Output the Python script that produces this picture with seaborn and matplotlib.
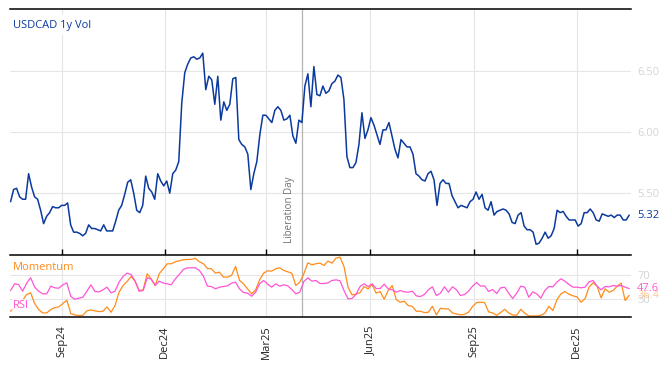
import numpy as np
import pandas as pd
import matplotlib
matplotlib.use("Agg")
import matplotlib.pyplot as plt
import matplotlib.dates as mdates
import seaborn as sns

# ---------------- data ----------------
vol_start, vol_end = "2024-07-17 12:00", "2026-01-16 10:00"
usdcad_vol = [
    5.43, 5.53, 5.54, 5.47, 5.45, 5.45, 5.66, 5.55, 5.47, 5.45,
    5.36, 5.25, 5.31, 5.34, 5.39, 5.38, 5.38, 5.40, 5.40, 5.42,
    5.24, 5.18, 5.18, 5.17, 5.15, 5.17, 5.24, 5.21, 5.21, 5.20,
    5.19, 5.24, 5.19, 5.19, 5.19, 5.27, 5.36, 5.40, 5.49, 5.59,
    5.61, 5.50, 5.36, 5.34, 5.40, 5.64, 5.54, 5.51, 5.45, 5.66,
    5.60, 5.56, 5.60, 5.50,
    5.66, 5.69, 5.76, 6.24, 6.49, 6.56, 6.61, 6.62, 6.60, 6.61,
    6.65, 6.35, 6.46, 6.43, 6.23, 6.46, 6.10, 6.25, 6.18, 6.23,
    6.44, 6.45, 5.94, 5.90, 5.88, 5.82, 5.53, 5.66, 5.76, 5.98,
    6.14, 6.14, 6.11, 6.08, 6.18, 6.21, 6.18, 6.10, 6.11, 6.14,
    5.97, 5.91, 6.10, 6.08, 6.38, 6.48, 6.21, 6.54, 6.31, 6.30,
    6.38, 6.32,
    6.34, 6.40, 6.42, 6.47, 6.45, 6.27, 5.80, 5.71, 5.71, 5.75,
    5.90, 6.16, 5.95, 6.02, 6.12, 6.06, 5.98, 5.90, 6.02, 6.02,
    6.08, 5.97, 5.86, 5.79, 5.94, 5.91, 5.88, 5.88, 5.82, 5.66,
    5.64, 5.61, 5.60, 5.66, 5.68, 5.61, 5.40, 5.58, 5.61, 5.58,
    5.58, 5.48, 5.43, 5.38, 5.40, 5.39, 5.38, 5.43, 5.45, 5.51,
    5.45, 5.49,
    5.38, 5.36, 5.43, 5.32, 5.35, 5.36, 5.37, 5.36, 5.33, 5.26,
    5.25, 5.32, 5.34, 5.23, 5.20, 5.20, 5.18, 5.08, 5.09, 5.13,
    5.18, 5.13, 5.15, 5.21, 5.36, 5.34, 5.35, 5.31, 5.28, 5.28,
    5.28, 5.23, 5.25, 5.34, 5.34, 5.37, 5.34, 5.28, 5.27, 5.33,
    5.32, 5.31, 5.32, 5.30, 5.32, 5.32, 5.28, 5.28, 5.32,
]

ind_start, ind_end = "2024-07-17 12:00", "2026-01-16 10:00"
momentum = [
    10, 16, 22, 28, 38, 40.6, 22.8, 12.8, 7.2, 7.2,
    12.8, 16.1, 17.2, 22.8, 28.3, 6.1, 3.9, 2.8, 3.3, 10.6,
    12.2, 10.6, 9.4, 10, 17.2, 8.3, 19.4, 41.7, 52.8, 59.4,
    67.8, 60, 44.4, 45.6, 72.2, 63.9, 52.8, 72.2, 80.6, 88.9,
    88.9, 92.2, 93.9, 95.6, 96.1, 96.1, 97.8, 92.2, 88.9, 81.1,
    80.6, 73.3, 75, 66.7, 66.7, 69.4, 84.4, 61.1, 55.6, 47.2,
    38.9, 45.6, 62.2, 73.3, 77.2, 76.7, 80.6, 82.2, 77.8, 75.6,
    73.3, 52.8, 58.3, 72.2, 90.6, 87.2, 88.9, 90, 86.1, 93.3,
    90, 98.3, 100, 84.4, 50, 37.2, 38.3, 41.1, 51.1, 47.2,
    54.4, 40, 42.8, 30, 44.4, 52.8, 29.4, 25, 26.7, 19.4,
    18.3, 10, 10, 7.8, 8.3, 18.3, 3.9, 15, 13.9, 13.9,
    7.2, 5.6, 3.9, 5, 8.3, 17.8, 24.4, 25, 24.4,
    8.9, 7.2, 3.3, 7.8, 13.3, 7.2, 3.9, 3.3, 13.3, 6.7,
    2.2, 2.2, 2.2, 3.3, 6.7, 18.3, 11.1, 28.9, 38.9, 42.8,
    38.3, 35.6, 33.9, 25, 30.6, 50, 57.2, 51.7, 32.2, 47.2,
    41.7, 44.4, 51.7, 56.7, 27.8, 36.4,
]
rsi = [
    44.4, 55.6, 54.4, 43.3, 56.7, 65.6, 50, 43.3, 38.9, 38.9,
    51.7, 48.9, 48.3, 53.9, 57.2, 34.4, 30, 31.7, 33.3, 43.3,
    53.9, 42.8, 42.2, 45.6, 50, 40.6, 43.3, 58.3, 67.8, 73.3,
    71.1, 60, 43.3, 44.4, 65.6, 63.3, 52.8, 60, 56.7, 55.6,
    53.9, 63.9, 71.1, 79.4, 82.2, 82.2, 82.2, 77.8, 68.3, 51.7,
    51.1, 47.2, 50, 51.1, 52.2, 56.7, 58.3, 47.2, 41.1, 40,
    35, 41.7, 55.6, 61.1, 55, 50, 55.6, 51.7, 53.9, 52.2,
    46.1, 38.9, 41.7, 59.4, 65.6, 60, 61.1, 56.1, 56.1, 57.2,
    61.1, 62.2, 60.6, 44.4, 30.6, 31.1, 38.3, 51.1, 55.6, 51.1,
    55.6, 47.8, 47.8, 55, 47.2, 45.6, 41.7, 44.4, 42.2, 41.7,
    43.3, 35.6, 34.4, 37.8, 45.6, 50.6, 36.1, 40, 50.6, 41.7,
    50.6, 45.6, 36.1, 37.8, 43.3, 51.7, 57.8, 51.7, 52.2,
    42.8, 46.1, 39.4, 48.9, 50, 40, 31.1, 40, 51.7, 50,
    33.3, 42.2, 38.9, 31.7, 44.4, 51.1, 50.6, 58.3, 63.9, 60,
    54.4, 50, 50, 48.9, 50, 58.9, 61.1, 51.7, 45.6, 51.1,
    50.6, 52.8, 51.7, 52.8, 50, 47.6,
]

event_date = "2025-04-02"
event_label = "Liberation Day"
title_label = "USDCAD 1y Vol"
vol_ticks = [5.5, 6.0, 6.5]
ind_ticks = [30, 70]

BLUE = "#0b3a9e"
ORANGE = "#ff8c1a"
PINK = "#ff55d6"
GRID = "#e6e6e6"
TICKGREY = "#d4d4d4"

# ---------------- frames ----------------
df_vol = pd.DataFrame({
    "date": pd.date_range(vol_start, vol_end, periods=len(usdcad_vol)),
    "vol": usdcad_vol,
})
df_ind = pd.DataFrame({
    "date": pd.date_range(ind_start, ind_end, periods=len(momentum)),
    "Momentum": momentum,
    "RSI": rsi,
})

sns.set_theme(style="white")
plt.rcParams["font.family"] = ["Open Sans", "DejaVu Sans"]

fig = plt.figure(figsize=(6.68, 3.66), dpi=100)
ax = fig.add_axes([0.015, 0.3025, 0.9296, 0.6721])
ax2 = fig.add_axes([0.015, 0.134, 0.9296, 0.168], sharex=ax)

# --- top panel
sns.lineplot(data=df_vol, x="date", y="vol", ax=ax, color=BLUE, linewidth=1.1)
ax.set_ylim(4.99, 7.01)
ax.set_xlim(pd.Timestamp("2024-07-17"), pd.Timestamp("2026-01-18"))
ax.set_yticks(vol_ticks)
ax.set_yticklabels([f"{v:.2f}" for v in vol_ticks])
ax.yaxis.tick_right()
ax.tick_params(axis="y", length=0, labelcolor=TICKGREY, labelsize=8, pad=4.5)
ax.tick_params(axis="x", direction="in", length=4, width=1, color="black",
               bottom=True, labelbottom=False)
ax.grid(True, color=GRID, linewidth=0.8)
ax.set_axisbelow(True)
for s in ["left", "right", "bottom"]:
    ax.spines[s].set_visible(False)
ax.spines["top"].set_color("black")
ax.spines["top"].set_linewidth(1.1)
ax.set_xlabel("")
ax.set_ylabel("")

ax.text(0.005, 0.936, title_label, transform=ax.transAxes, color=BLUE,
        fontsize=8, va="center", ha="left",
        bbox=dict(facecolor="white", edgecolor="none", pad=3))
ax.annotate(f"{usdcad_vol[-1]:.2f}", xy=(1, usdcad_vol[-1]),
            xycoords=("axes fraction", "data"), xytext=(4.5, 0),
            textcoords="offset points", va="center", ha="left",
            color=BLUE, fontsize=8)

ev = pd.Timestamp(event_date)
ax.axvline(ev, color="#b3b3b3", linewidth=0.9, zorder=1.5)
ax2.axvline(ev, color="#b3b3b3", linewidth=0.9, zorder=1.5)
ax.text(ev - pd.Timedelta(days=7), 5.09, event_label, rotation=90,
        ha="right", va="bottom", color="#707070", fontsize=7)

# --- bottom panel
sns.lineplot(data=df_ind, x="date", y="Momentum", ax=ax2, color=ORANGE, linewidth=0.9)
sns.lineplot(data=df_ind, x="date", y="RSI", ax=ax2, color=PINK, linewidth=0.9)
ax2.set_ylim(0.5, 102.7)
ax2.set_yticks(ind_ticks)
ax2.set_yticklabels([str(v) for v in ind_ticks])
ax2.yaxis.tick_right()
ax2.tick_params(axis="y", length=0, labelcolor=TICKGREY, labelsize=8, pad=4.5)
ax2.tick_params(axis="x", direction="in", length=4, width=1, color="black",
                labelsize=8, labelcolor="#222222", labelrotation=90, pad=6)
ax2.xaxis.set_major_locator(mdates.MonthLocator(bymonth=[3, 6, 9, 12]))
ax2.xaxis.set_major_formatter(mdates.DateFormatter("%b%y"))
ax2.grid(True, color=GRID, linewidth=0.8)
ax2.set_axisbelow(True)
for s in ["left", "right"]:
    ax2.spines[s].set_visible(False)
for s in ["top", "bottom"]:
    ax2.spines[s].set_color("black")
    ax2.spines[s].set_linewidth(1.1)
ax2.set_xlabel("")
ax2.set_ylabel("")

ax2.text(0.005, 0.80, "Momentum", transform=ax2.transAxes, color=ORANGE,
         fontsize=8, va="center", ha="left")
ax2.text(0.005, 0.18, "RSI", transform=ax2.transAxes, color=PINK,
         fontsize=8, va="center", ha="left",
         bbox=dict(facecolor="white", edgecolor="none", alpha=0.75, pad=1))
ax2.annotate(f"{rsi[-1]:.1f}", xy=(1, rsi[-1]),
             xycoords=("axes fraction", "data"), xytext=(4.5, 0),
             textcoords="offset points", va="center", ha="left",
             color=PINK, fontsize=8)
ax2.annotate(f"{momentum[-1]:.1f}", xy=(1, momentum[-1]),
             xycoords=("axes fraction", "data"), xytext=(4.5, 0),
             textcoords="offset points", va="center", ha="left",
             color=ORANGE, alpha=0.45, fontsize=8)

fig.savefig("out.png", dpi=100)
